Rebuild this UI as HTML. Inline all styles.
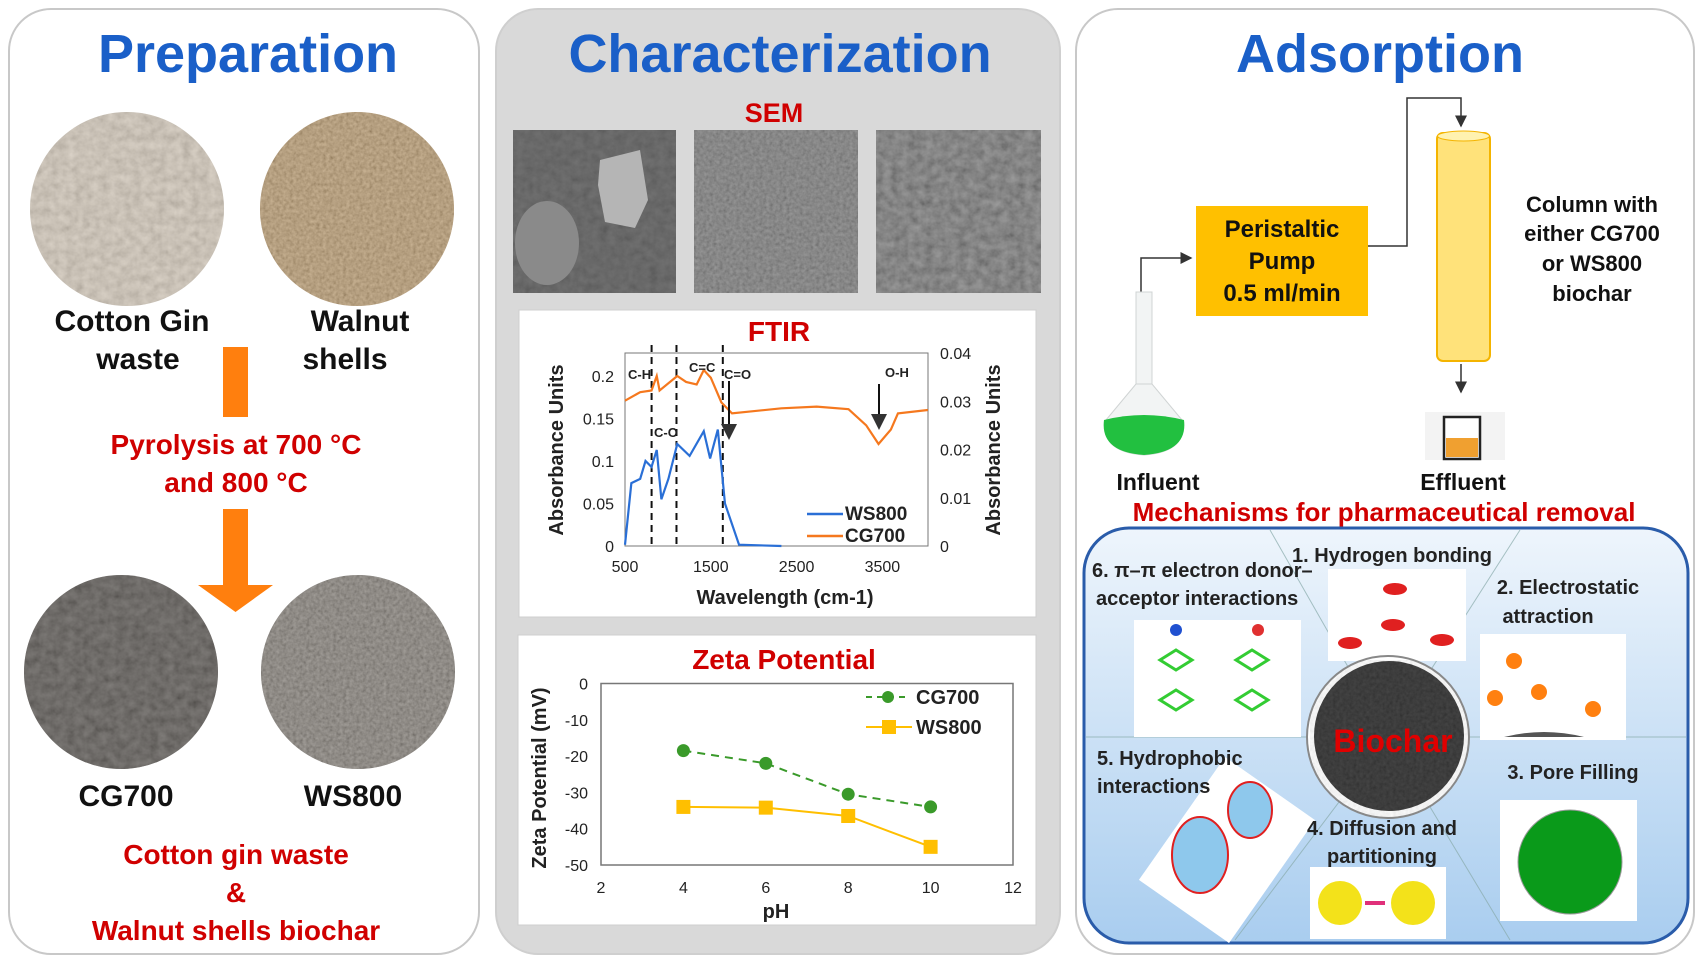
<!DOCTYPE html>
<html><head><meta charset="utf-8">
<style>
html,body{margin:0;padding:0;background:#fff;}
svg{display:block;font-family:"Liberation Sans",sans-serif;}
.t{font-weight:bold;}
</style></head>
<body>
<svg id="root" width="1700" height="958" viewBox="0 0 1700 958" xmlns="http://www.w3.org/2000/svg">
<defs>
<filter id="tex1" x="0" y="0" width="1" height="1"><feTurbulence type="fractalNoise" baseFrequency="0.12" numOctaves="3" seed="3"/><feColorMatrix type="saturate" values="0"/><feComponentTransfer><feFuncA type="linear" slope="0" intercept="0.55"/></feComponentTransfer></filter>
<filter id="tex2" x="0" y="0" width="1" height="1"><feTurbulence type="fractalNoise" baseFrequency="0.3" numOctaves="2" seed="7"/><feColorMatrix type="saturate" values="0"/><feComponentTransfer><feFuncA type="linear" slope="0" intercept="0.6"/></feComponentTransfer></filter>
<clipPath id="c1"><circle cx="127" cy="209" r="97"/></clipPath>
<clipPath id="c2"><circle cx="357" cy="209" r="97"/></clipPath>
<clipPath id="c3"><circle cx="121" cy="672" r="97"/></clipPath>
<clipPath id="c4"><circle cx="358" cy="672" r="97"/></clipPath>
<clipPath id="c5"><circle cx="1388" cy="737" r="81"/></clipPath>
<clipPath id="s1"><rect x="513" y="130" width="163" height="163"/></clipPath>
<clipPath id="s2"><rect x="694" y="130" width="164" height="163"/></clipPath>
<clipPath id="s3"><rect x="876" y="130" width="165" height="163"/></clipPath>
<linearGradient id="blueg" x1="0" y1="0" x2="0" y2="1"><stop offset="0" stop-color="#eef5fc"/><stop offset="1" stop-color="#a9cdef"/></linearGradient>
<marker id="ah" markerWidth="8" markerHeight="8" refX="7" refY="4" orient="auto"><path d="M0,0 L8,4 L0,8 z" fill="#333"/></marker>
</defs>

<!-- Panels -->
<rect x="9" y="9" width="470" height="945" rx="42" fill="#fff" stroke="#c8c8c8" stroke-width="2"/>
<rect x="496" y="9" width="564" height="945" rx="42" fill="#d9d9d9" stroke="#cfcfcf" stroke-width="2"/>
<rect x="1076" y="9" width="618" height="945" rx="42" fill="#fff" stroke="#c8c8c8" stroke-width="2"/>

<text x="248" y="72" text-anchor="middle" class="t" font-size="54" fill="#1a5fc8">Preparation</text>
<text x="780" y="72" text-anchor="middle" class="t" font-size="54" fill="#1a5fc8">Characterization</text>
<text x="1380" y="72" text-anchor="middle" class="t" font-size="54" fill="#1a5fc8">Adsorption</text>

<!-- Preparation photos -->
<g clip-path="url(#c1)"><rect x="20" y="100" width="220" height="220" fill="#cfc4b4"/><rect x="20" y="100" width="220" height="220" filter="url(#tex1)" opacity="0.6"/></g>
<g clip-path="url(#c2)"><rect x="250" y="100" width="220" height="220" fill="#b08a55"/><rect x="250" y="100" width="220" height="220" filter="url(#tex2)" opacity="0.7"/></g>
<g clip-path="url(#c3)"><rect x="14" y="565" width="220" height="220" fill="#4a4540"/><rect x="14" y="565" width="220" height="220" filter="url(#tex1)" opacity="0.6"/></g>
<g clip-path="url(#c4)"><rect x="250" y="565" width="220" height="220" fill="#6e6860"/><rect x="250" y="565" width="220" height="220" filter="url(#tex2)" opacity="0.7"/></g>

<g class="t" font-size="30" fill="#111" text-anchor="middle">
<text x="132" y="331">Cotton Gin</text>
<text x="138" y="369">waste</text>
<text x="360" y="331">Walnut</text>
<text x="345" y="369">shells</text>
<text x="126" y="806">CG700</text>
<text x="353" y="806">WS800</text>
</g>
<rect x="223" y="347" width="25" height="70" fill="#ff7f0e"/>
<path d="M223,509 H248 V585 H273 L235.5,612 L198,585 H223 Z" fill="#ff7f0e"/>
<g class="t" font-size="28" fill="#d00000" text-anchor="middle">
<text x="236" y="454">Pyrolysis at 700 °C</text>
<text x="236" y="492">and 800 °C</text>
<text x="236" y="864">Cotton gin waste</text>
<text x="236" y="902">&amp;</text>
<text x="236" y="940">Walnut shells biochar</text>
</g>

<!-- SEM -->
<text x="774" y="122" text-anchor="middle" class="t" font-size="27" fill="#d00000">SEM</text>
<g clip-path="url(#s1)"><rect x="513" y="130" width="163" height="163" fill="#555"/><rect x="513" y="130" width="163" height="163" filter="url(#tex1)" opacity="0.35"/><ellipse cx="547" cy="243" rx="32" ry="42" fill="#8a8a8a"/><path d="M600,160 L640,150 L648,200 L635,228 L605,222 L598,185Z" fill="#b5b5b5"/></g>
<g clip-path="url(#s2)"><rect x="694" y="130" width="164" height="163" fill="#6a6a6a"/><rect x="694" y="130" width="164" height="163" filter="url(#tex2)" opacity="0.6"/></g>
<g clip-path="url(#s3)"><rect x="876" y="130" width="165" height="163" fill="#5a5a5a"/><rect x="876" y="130" width="165" height="163" filter="url(#tex1)" opacity="0.8"/></g>

<!-- FTIR -->
<rect x="519" y="310" width="517" height="307" fill="#fff" stroke="#cfcfcf"/>
<text x="779" y="341" text-anchor="middle" class="t" font-size="28" fill="#d00000">FTIR</text>
<g id="ftir"></g>

<!-- Zeta -->
<rect x="518" y="635" width="518" height="290" fill="#fff" stroke="#cfcfcf"/>
<text x="784" y="669" text-anchor="middle" class="t" font-size="28" fill="#d00000">Zeta Potential</text>
<g id="zeta"></g>

<!-- Adsorption top -->
<rect x="1196" y="206" width="172" height="110" fill="#ffc000"/>
<g class="t" font-size="24" fill="#111" text-anchor="middle">
<text x="1282" y="237">Peristaltic</text>
<text x="1282" y="269">Pump</text>
<text x="1282" y="301">0.5 ml/min</text>
</g>
<path d="M1368,246 H1407 V98 H1461 V126" fill="none" stroke="#333" stroke-width="1.5" marker-end="url(#ah)"/>
<path d="M1141,292 V258 H1191" fill="none" stroke="#333" stroke-width="1.5" marker-end="url(#ah)"/>
<path d="M1461,364 V392" fill="none" stroke="#333" stroke-width="1.5" marker-end="url(#ah)"/>
<rect x="1437" y="133" width="53" height="228" rx="6" fill="#ffe27a" stroke="#f4b400" stroke-width="2"/>
<ellipse cx="1463.5" cy="136" rx="26" ry="5" fill="#fff2b0" stroke="#f4b400"/>
<g class="t" font-size="22" fill="#111" text-anchor="middle">
<text x="1592" y="212">Column with</text>
<text x="1592" y="241">either CG700</text>
<text x="1592" y="271">or WS800</text>
<text x="1592" y="301">biochar</text>
</g>
<g>
<rect x="1136" y="292" width="16" height="92" fill="#f2f4f4" stroke="#d0d4d4"/>
<path d="M1136,384 L1106,420 Q1100,452 1144,455 Q1188,452 1182,420 L1152,384Z" fill="#f2f4f4" stroke="#d0d4d4"/>
<path d="M1104,420 Q1100,452 1144,455 Q1188,452 1184,420 Q1144,410 1104,420Z" fill="#22c040"/>
</g>
<g>
<rect x="1425" y="412" width="80" height="48" fill="#f3f3f3"/>
<rect x="1444" y="417" width="36" height="42" fill="#fff" stroke="#222" stroke-width="2.5"/>
<rect x="1446" y="438" width="32" height="19" fill="#f0a030"/>
</g>
<g class="t" font-size="23" fill="#111" text-anchor="middle">
<text x="1158" y="490">Influent</text>
<text x="1463" y="490">Effluent</text>
</g>
<text x="1384" y="521" text-anchor="middle" class="t" font-size="26" fill="#d00000">Mechanisms for pharmaceutical removal</text>

<!-- Mechanisms -->
<rect x="1084" y="528" width="604" height="415" rx="45" fill="url(#blueg)" stroke="#2a5caa" stroke-width="3"/>
<g stroke="#8aa" stroke-width="1" opacity="0.7">
<line x1="1270" y1="530" x2="1388" y2="737"/><line x1="1520" y1="530" x2="1388" y2="737"/>
<line x1="1086" y1="737" x2="1686" y2="737"/><line x1="1235" y1="940" x2="1388" y2="737"/><line x1="1510" y1="940" x2="1388" y2="737"/>
</g>
<rect x="1328" y="569" width="138" height="92" fill="#fff"/>
<g fill="#e02020"><ellipse cx="1395" cy="589" rx="12" ry="6"/><ellipse cx="1393" cy="625" rx="12" ry="6"/><ellipse cx="1350" cy="643" rx="12" ry="6"/><ellipse cx="1442" cy="640" rx="12" ry="6"/></g>
<rect x="1134" y="620" width="167" height="117" fill="#fff"/>
<g fill="none" stroke="#3c3" stroke-width="3">
<path d="M1160,660 l16,-10 l16,10 l-16,10z"/><path d="M1160,700 l16,-10 l16,10 l-16,10z"/><path d="M1236,660 l16,-10 l16,10 l-16,10z"/><path d="M1236,700 l16,-10 l16,10 l-16,10z"/></g>
<circle cx="1176" cy="630" r="6" fill="#2050d0"/><circle cx="1258" cy="630" r="6" fill="#e03030"/>
<rect x="1480" y="634" width="146" height="106" fill="#fff"/>
<g fill="#ff8010"><circle cx="1514" cy="661" r="8"/><circle cx="1495" cy="698" r="8"/><circle cx="1539" cy="692" r="8"/><circle cx="1593" cy="709" r="8"/></g>
<path d="M1504,773 q40,-10 80,0z" fill="#555" transform="translate(0,-36)"/>
<rect x="1500" y="800" width="137" height="121" fill="#fff"/>
<circle cx="1570" cy="862" r="52" fill="#0a9a1a" stroke="#999"/>
<rect x="1310" y="867" width="136" height="72" fill="#fff"/>
<circle cx="1340" cy="903" r="22" fill="#f3e21a"/><circle cx="1413" cy="903" r="22" fill="#f3e21a"/>
<path d="M1365,903 h20" stroke="#e0307a" stroke-width="4"/>
<rect x="1172" y="775" width="110" height="150" fill="#fff" transform="rotate(35 1227 850)"/>
<ellipse cx="1200" cy="855" rx="28" ry="38" fill="#8ec8ec" stroke="#e02020" stroke-width="2"/><ellipse cx="1250" cy="810" rx="22" ry="28" fill="#8ec8ec" stroke="#e02020" stroke-width="2"/>
<g clip-path="url(#c5)"><circle cx="1388" cy="737" r="81" fill="#fff"/><circle cx="1389" cy="736" r="75" fill="#222"/><rect x="1310" y="660" width="160" height="160" filter="url(#tex2)" opacity="0.3"/></g>
<circle cx="1388" cy="737" r="81" fill="none" stroke="#888" stroke-width="2"/>
<text x="1393" y="752" text-anchor="middle" class="t" font-size="32" fill="#e00000">Biochar</text>
<g class="t" font-size="20" fill="#222">
<text x="1392" y="562" text-anchor="middle">1. Hydrogen bonding</text>
<text x="1568" y="594" text-anchor="middle">2. Electrostatic</text>
<text x="1548" y="623" text-anchor="middle">attraction</text>
<text x="1573" y="779" text-anchor="middle">3. Pore Filling</text>
<text x="1382" y="835" text-anchor="middle">4. Diffusion and</text>
<text x="1382" y="863" text-anchor="middle">partitioning</text>
<text x="1097" y="765">5. Hydrophobic</text>
<text x="1097" y="793">interactions</text>
<text x="1092" y="577">6. π–π electron donor–</text>
<text x="1096" y="605">acceptor interactions</text>
</g>
</svg>
<script>
// ---- FTIR data ----
const ftirCgX = [500,677,809,870,903,1109,1212,1335,1418,1500,1623,1747,2323,2734,3105,3311,3455,3599,3681,4030];
const ftirCgY = [0.171,0.181,0.183,0.2,0.183,0.2,0.193,0.19,0.207,0.198,0.169,0.156,0.162,0.164,0.161,0.142,0.12,0.137,0.156,0.16];
const ftirWsX = [500,574,677,739,809,870,924,1006,1109,1253,1418,1492,1582,1665,1829,2323];
const ftirWsY = [0.0015,0.074,0.079,0.1,0.093,0.113,0.055,0.079,0.12,0.106,0.135,0.103,0.137,0.05,0.0015,0];
const ftirXTicks = [500,1500,2500,3500];
const ftirYTicks = [0,0.05,0.1,0.15,0.2];
const ftirY2Ticks = [0,0.01,0.02,0.03,0.04];
const ftirDashes = [810,1100,1640];
// ---- Zeta data ----
const zetaPH = [4,6,8,10];
const zetaCG = [-18.5,-22,-30.5,-34];
const zetaWS = [-34,-34.2,-36.5,-45];
const zetaXTicks = [2,4,6,8,10,12];
const zetaYTicks = [0,-10,-20,-30,-40,-50];

const NS='http://www.w3.org/2000/svg';
function mk(tag, attrs, parent, txt){const e=document.createElementNS(NS,tag);for(const k in attrs)e.setAttribute(k,attrs[k]);if(txt!==undefined)e.textContent=txt;parent.appendChild(e);return e;}

// FTIR axes
const fx = v => 625 + (v-500)*0.0858;
const fy = v => 546 - v*850;
const fy2 = v => 546 - v*(193/0.04);
const fg = document.getElementById('ftir');
let e;
e=mk('rect',{x:625,y:353,width:303,height:193,fill:'none',stroke:'#777'},fg);


ftirXTicks.forEach(t=>{e=mk('text',{x:fx(t),y:572,'text-anchor':'middle','font-size':16,fill:'#222'},fg,String(t));

});
ftirYTicks.forEach(t=>{e=mk('text',{x:614,y:fy(t)+6,'text-anchor':'end','font-size':16,fill:'#222'},fg,String(t));

});
ftirY2Ticks.forEach(t=>{e=mk('text',{x:940,y:fy2(t)+6,'font-size':16,fill:'#222'},fg,String(t));

});
e=mk('text',{x:785,y:604,'text-anchor':'middle','font-size':20,'font-weight':'bold',fill:'#222'},fg,'Wavelength (cm-1)');


e=mk('text',{x:0,y:0,'text-anchor':'middle','font-size':20,'font-weight':'bold',fill:'#222',transform:'translate(563,450) rotate(-90)'},fg,'Absorbance Units');


e=mk('text',{x:0,y:0,'text-anchor':'middle','font-size':20,'font-weight':'bold',fill:'#222',transform:'translate(1000,450) rotate(-90)'},fg,'Absorbance Units');


ftirDashes.forEach(d=>{e=mk('line',{x1:fx(d),x2:fx(d),y1:345,y2:546,stroke:'#111','stroke-width':2,'stroke-dasharray':'7,5'},fg);

});
e=mk('polyline',{points:ftirCgX.map((x,i)=>fx(x)+','+fy(ftirCgY[i])).join(' '),fill:'none',stroke:'#f5781e','stroke-width':2.2},fg);


e=mk('polyline',{points:ftirWsX.map((x,i)=>fx(x)+','+fy(ftirWsY[i])).join(' '),fill:'none',stroke:'#2a6fd6','stroke-width':2.2},fg);


[['C-H',628,379],['C-O',654,437],['C=C',689,372],['C=O',724,379],['O-H',885,377]].forEach(a=>{e=mk('text',{x:a[1],y:a[2],'font-size':13,'font-weight':'bold',fill:'#222'},fg,a[0]);

});
e=mk('line',{x1:729,y1:381,x2:729,y2:438,stroke:'#111','stroke-width':2,'marker-end':'url(#ah)'},fg);


e=mk('line',{x1:879,y1:384,x2:879,y2:428,stroke:'#111','stroke-width':2,'marker-end':'url(#ah)'},fg);


e=mk('line',{x1:807,y1:514,x2:843,y2:514,stroke:'#2a6fd6','stroke-width':2.5},fg);


e=mk('text',{x:845,y:520,'font-size':19,'font-weight':'bold',fill:'#222'},fg,'WS800');


e=mk('line',{x1:807,y1:536,x2:843,y2:536,stroke:'#f5781e','stroke-width':2.5},fg);


e=mk('text',{x:845,y:542,'font-size':19,'font-weight':'bold',fill:'#222'},fg,'CG700');



// Zeta axes
const zx = v => 601 + (v-2)*41.2;
const zy = v => 683.5 - v*3.63;
const zg = document.getElementById('zeta');
e=mk('rect',{x:601,y:683.5,width:412,height:181.5,fill:'none',stroke:'#777','stroke-width':1.5},zg);


zetaXTicks.forEach(t=>{e=mk('text',{x:zx(t),y:893,'text-anchor':'middle','font-size':16,fill:'#222'},zg,String(t));

});
zetaYTicks.forEach(t=>{e=mk('text',{x:588,y:zy(t)+6,'text-anchor':'end','font-size':16,fill:'#222'},zg,String(t));

});
e=mk('text',{x:776,y:918,'text-anchor':'middle','font-size':20,'font-weight':'bold',fill:'#222'},zg,'pH');


e=mk('text',{x:0,y:0,'text-anchor':'middle','font-size':20,'font-weight':'bold',fill:'#222',transform:'translate(546,778) rotate(-90)'},zg,'Zeta Potential (mV)');


e=mk('polyline',{points:zetaPH.map((x,i)=>zx(x)+','+zy(zetaCG[i])).join(' '),fill:'none',stroke:'#3a9a2a','stroke-width':2,'stroke-dasharray':'8,6'},zg);


e=mk('polyline',{points:zetaPH.map((x,i)=>zx(x)+','+zy(zetaWS[i])).join(' '),fill:'none',stroke:'#ffbf00','stroke-width':2},zg);


zetaPH.forEach((x,i)=>{e=mk('circle',{cx:zx(x),cy:zy(zetaCG[i]),r:6.5,fill:'#3a9a2a'},zg);


e=mk('rect',{x:zx(x)-7,y:zy(zetaWS[i])-7,width:14,height:14,fill:'#ffbf00'},zg);

});
e=mk('line',{x1:866,y1:697,x2:908,y2:697,stroke:'#3a9a2a','stroke-width':2,'stroke-dasharray':'6,5'},zg);


e=mk('circle',{cx:888,cy:697,r:6,fill:'#3a9a2a'},zg);


e=mk('text',{x:916,y:704,'font-size':20,'font-weight':'bold',fill:'#222'},zg,'CG700');


e=mk('line',{x1:866,y1:727,x2:912,y2:727,stroke:'#ffbf00','stroke-width':2},zg);


e=mk('rect',{x:882,y:720,width:14,height:14,fill:'#ffbf00'},zg);


e=mk('text',{x:916,y:734,'font-size':20,'font-weight':'bold',fill:'#222'},zg,'WS800');


</script>
</body></html>
